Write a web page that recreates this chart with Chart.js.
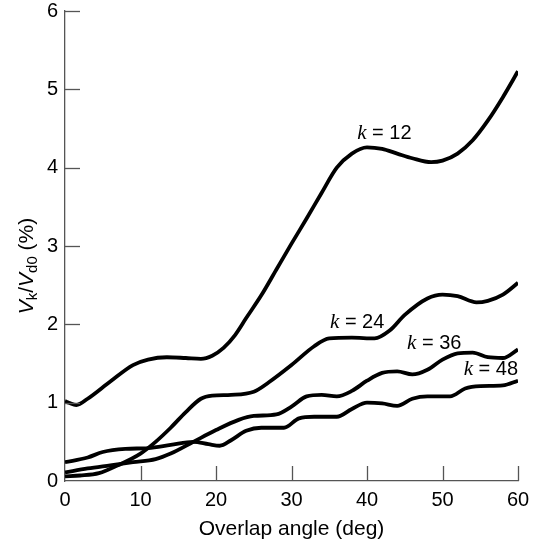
<!DOCTYPE html>
<html><head><meta charset="utf-8">
<script src="https://cdn.jsdelivr.net/npm/chart.js@4/dist/chart.umd.min.js"></script>
<style>html,body{margin:0;padding:0;background:#fff}#w{width:536px;height:550px}</style>
</head><body><div id="w"><canvas id="c" width="536" height="550"></canvas></div>
<script>
const angle12 = [0,0.5,1.5,3,6,9,11,13.5,16,18,19.5,21,22.5,24,26,28,30,32,34,36,38,40,42,44,46,48.5,50,52,54,56,58,60];
const vk12    = [1.02,1.0,0.97,1.05,1.27,1.48,1.55,1.58,1.57,1.56,1.6,1.7,1.86,2.08,2.37,2.7,3.03,3.35,3.68,4.0,4.18,4.26,4.24,4.18,4.12,4.07,4.09,4.18,4.35,4.6,4.9,5.23];
const angle24 = [0,2,4.5,7,10,12,14,16,18,19.5,22,25,27,30,33,35,38,41,43,45,48,50,52,54.5,56,58,60];
const vk24    = [0.06,0.07,0.1,0.2,0.35,0.5,0.68,0.88,1.05,1.09,1.1,1.14,1.26,1.48,1.72,1.82,1.83,1.82,1.92,2.12,2.33,2.38,2.36,2.28,2.3,2.38,2.53];
const angle36 = [0,3,6,9,12,14,17,20,23,25,28,30,32,34,36,38,40,42,44,46,48,50,52,54,56,58,60];
const vk36    = [0.11,0.16,0.2,0.24,0.28,0.35,0.5,0.65,0.78,0.83,0.85,0.95,1.08,1.1,1.08,1.15,1.28,1.38,1.4,1.36,1.42,1.55,1.63,1.64,1.58,1.57,1.68];
const angle48 = [0,3,5,8,11,14,17,19,20.5,22,24,26,29,31,33,36,38,40,42,44,46,48,51,53,55,58,60];
const vk48    = [0.24,0.3,0.37,0.41,0.42,0.46,0.5,0.47,0.45,0.52,0.64,0.68,0.68,0.8,0.82,0.82,0.92,1.0,0.99,0.96,1.05,1.08,1.08,1.18,1.21,1.22,1.28];
const seriesNames = ["12","24","36","48"];
const labelAngles = [42.3,38.7,48.9,56.4];
const labelValues = [4.44,2.02,1.76,1.42];
const xTicks = [0,10,20,30,40,50,60];
const yTicks = [0,1,2,3,4,5,6];

function pts(xs, ys){ return xs.map((x,i)=>({x:x,y:ys[i]})); }
const sets = [[angle12,vk12],[angle24,vk24],[angle36,vk36],[angle48,vk48]];

const decor = {
  id:'decor',
  afterDraw(chart){
    const ctx = chart.ctx, xs = chart.scales.x, ys = chart.scales.y;
    const L = xs.left, B = ys.bottom;
    ctx.save();
    ctx.strokeStyle = '#555'; ctx.lineWidth = 1.3;
    yTicks.forEach(v=>{ const p = Math.round(ys.getPixelForValue(v))+0.5; if(v===0) return; ctx.beginPath(); ctx.moveTo(L,p); ctx.lineTo(L+15,p); ctx.stroke(); });
    xTicks.forEach(v=>{ const p = Math.round(xs.getPixelForValue(v))+0.5; if(v===0) return; ctx.beginPath(); ctx.moveTo(p,B); ctx.lineTo(p,B-15); ctx.stroke(); });
    // curve labels
    ctx.fillStyle = '#000'; ctx.textBaseline = 'middle';
    const kFont = 'italic 21px "Liberation Serif"', rFont = '20px "Liberation Sans"';
    seriesNames.forEach((n,i)=>{
      const cx = xs.getPixelForValue(labelAngles[i]), cy = ys.getPixelForValue(labelValues[i]);
      ctx.font = kFont;
      const wk = ctx.measureText('k').width;
      ctx.font = rFont;
      const rest = ' = ' + n;
      const wr = ctx.measureText(rest).width;
      let x0 = cx - (wk+wr)/2;
      ctx.textAlign = 'left';
      ctx.font = kFont; ctx.fillText('k', x0, cy);
      ctx.font = rFont; ctx.fillText(rest, x0+wk, cy);
    });
    // y title
    ctx.translate(27, 266); ctx.rotate(-Math.PI/2);
    const parts = [
      ['V','italic 21px "Liberation Sans"',0],
      ['k','15px "Liberation Sans"',6],
      ['/','21px "Liberation Sans"',0],
      ['V','italic 21px "Liberation Sans"',0],
      ['d0','15px "Liberation Sans"',6],
      [' (%)','21px "Liberation Sans"',0]
    ];
    let tw = 0; parts.forEach(p=>{ctx.font=p[1]; tw += ctx.measureText(p[0]).width;});
    let x = -tw/2; ctx.textAlign='left'; ctx.textBaseline='middle';
    parts.forEach(p=>{ctx.font=p[1]; ctx.fillText(p[0], x, p[2]); x += ctx.measureText(p[0]).width;});
    ctx.restore();
  }
};

new Chart(document.getElementById('c'), {
  type:'line',
  data:{ datasets: sets.map((s,i)=>({
    label:'k = '+seriesNames[i], data:pts(s[0],s[1]), borderColor:'#000', borderWidth:3.8,
    pointRadius:0, tension:0.4, cubicInterpolationMode:'monotone', fill:false
  }))},
  options:{
    responsive:false, animation:false, events:[],
    layout:{padding:{left:0,right:18,top:11,bottom:0}},
    plugins:{legend:{display:false}, tooltip:{enabled:false}},
    scales:{
      x:{type:'linear', min:0, max:60,
        afterBuildTicks(s){ s.ticks = xTicks.map(v=>({value:v})); },
        afterFit(s){ s.height = 69; s.paddingLeft = 0; s.paddingRight = 0; },
        grid:{display:true, drawOnChartArea:false, drawTicks:false},
        border:{display:true, color:'#555', width:1.3},
        ticks:{color:'#000', font:{family:'Liberation Sans', size:20}, padding:7, maxRotation:0},
        title:{display:true, text:'Overlap angle (deg)', color:'#000', font:{family:'Liberation Sans', size:21}, padding:{top:4,bottom:8}}
      },
      y:{type:'linear', min:0, max:6,
        afterBuildTicks(s){ s.ticks = yTicks.map(v=>({value:v})); },
        afterFit(s){ s.width = 65; s.paddingTop = 0; s.paddingBottom = 0; },
        grid:{display:true, drawOnChartArea:false, drawTicks:false},
        border:{display:true, color:'#555', width:1.3},
        ticks:{color:'#000', font:{family:'Liberation Sans', size:20}, padding:7}
      }
    }
  },
  plugins:[decor]
});
</script></body></html>
